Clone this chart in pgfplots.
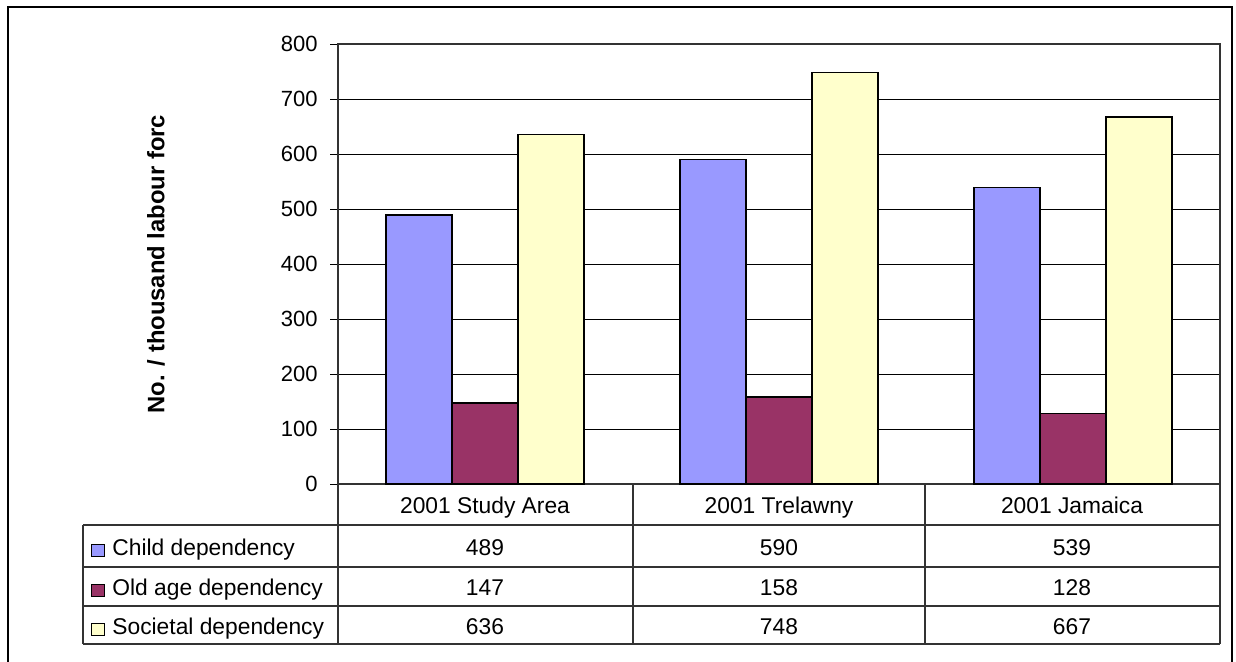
\documentclass[border=0pt]{standalone}
\usepackage{fontspec}
\setmainfont{Liberation Sans}
\usepackage{pgfplots}
\pgfplotsset{compat=1.18}

\definecolor{childc}{HTML}{9999FF}
\definecolor{oldc}{HTML}{993366}
\definecolor{socc}{HTML}{FFFFCC}
\newcommand{\tfont}{\fontsize{11.4}{13}\selectfont}
\newcommand{\kfont}{\fontsize{11}{13}\selectfont}

\begin{document}
\begin{tikzpicture}
\useasboundingbox (0,0) rectangle (618pt,-331pt);

% outer chart frame (bottom edge runs off the picture)
\draw[line width=1.1pt] (4pt,-340pt) -- (4pt,-3.5pt) -- (616pt,-3.5pt) -- (616pt,-340pt);

\begin{axis}[
  at={(169pt,-242pt)}, anchor=south west,
  scale only axis, width=441pt, height=220pt,
  xmin=-0.5, xmax=2.5, ymin=0, ymax=800,
  ytick distance=100, xtick=\empty, ytick pos=left,
  ybar=0pt, bar width=33pt,
  ymajorgrids, grid style={black, line width=0.5pt},
  axis line style={black!80, line width=0.6pt},
  tick align=outside, major tick length=4pt,
  ytick style={black, line width=0.5pt},
  yticklabel style={font=\kfont, inner sep=0pt, xshift=-6pt},
  /pgf/number format/assume math mode=true,
  ylabel={\bfseries No. / thousand labour forc},
  ylabel style={font=\fontsize{11.9}{13}\selectfont, at={(axis description cs:-0.2063,0.5)}, anchor=center},
  clip=false,
]
\addplot[fill=childc, draw=black, line width=0.7pt] coordinates {(0,489) (1,590) (2,539)};
\addplot[fill=oldc, draw=black, line width=0.7pt] coordinates {(0,147) (1,158) (2,128)};
\addplot[fill=socc, draw=black, line width=0.7pt] coordinates {(0,636) (1,748) (2,667)};
\end{axis}

% data table below the plot, in image pixels
\begin{scope}[x=0.5pt, y=-0.5pt, font=\tfont]
  \draw[black!80, line width=0.6pt]
    (338,484) -- (338,644)
    (633,484) -- (633,644)
    (925,484) -- (925,644)
    (1220,484) -- (1220,644)
    (83,525) -- (83,644)
    (83,525) -- (1220,525)
    (83,567) -- (1220,567)
    (83,606) -- (1220,606)
    (83,644) -- (1220,644);
  \node[anchor=base] at (485,513) {2001 Study Area};
  \node[anchor=base] at (779,513) {2001 Trelawny};
  \node[anchor=base] at (1072,513) {2001 Jamaica};
  % legend keys and names
  \draw[fill=childc, draw=black, line width=0.5pt] (91,544) rectangle (104,556);
  \draw[fill=oldc, draw=black, line width=0.5pt] (91,584) rectangle (104,596);
  \draw[fill=socc, draw=black, line width=0.5pt] (91,623) rectangle (104,635);
  \node[anchor=base west, inner sep=0pt] at (112,555) {Child dependency};
  \node[anchor=base west, inner sep=0pt] at (112,595) {Old age dependency};
  \node[anchor=base west, inner sep=0pt] at (112,634) {Societal dependency};
  % values
  \node[anchor=base] at (485,555) {489};
  \node[anchor=base] at (779,555) {590};
  \node[anchor=base] at (1072,555) {539};
  \node[anchor=base] at (485,595) {147};
  \node[anchor=base] at (779,595) {158};
  \node[anchor=base] at (1072,595) {128};
  \node[anchor=base] at (485,634) {636};
  \node[anchor=base] at (779,634) {748};
  \node[anchor=base] at (1072,634) {667};
\end{scope}
\end{tikzpicture}
\end{document}
